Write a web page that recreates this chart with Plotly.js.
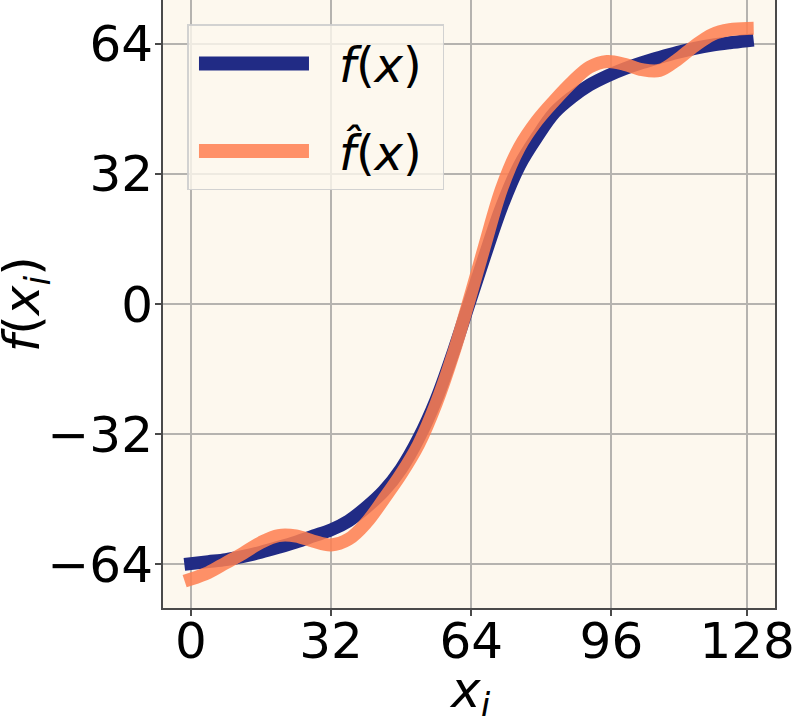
<!DOCTYPE html>
<html>
<head>
<meta charset="utf-8">
<script src="https://cdn.plot.ly/plotly-3.0.1.min.js"></script>
<style>
  html, body { margin: 0; padding: 0; background: #ffffff; }
  #plot { width: 793px; height: 716px; }
</style>
</head>
<body>
<div id="plot"></div>
<script>
// sample positions x_i
var xs = [0, 4, 8, 12, 16, 20, 24, 28, 32, 36, 40, 44, 48, 52, 56, 60, 63.5,
          67, 71, 75, 79, 83, 87, 91, 95, 99, 103, 107, 111, 115, 119, 123, 127];

// true function f(x)
var fTrue = [-63.8, -63.3, -62.8, -62.0, -61.0, -59.8, -58.5, -57.0, -55.5, -53.3, -50.0,
             -46.0, -40.5, -33.0, -23.5, -11.5, 0.0,
             11.5, 24.0, 34.0, 41.0, 47.0, 50.8, 53.8, 56.0, 57.8, 59.3, 60.6, 61.8,
             62.8, 63.6, 64.2, 64.7];

// approximation f-hat(x)
var fApprox = [-67.6, -66.0, -63.6, -61.2, -58.6, -56.9, -57.0, -58.3, -59.2, -57.8, -53.8,
               -48.0, -41.8, -34.5, -24.5, -12.0, 0.8,
               14.0, 28.5, 38.5, 45.0, 50.0, 54.5, 58.2, 59.6, 58.9, 57.6, 57.4, 60.0,
               63.4, 66.2, 67.4, 67.7];

// tick positions / labels
var xTickVals = [0, 32, 64, 96, 127];
var xTickText = ["0", "32", "64", "96", "128"];
var yTickVals = [-64, -32, 0, 32, 64];

var trace1 = {
    x: xs,
    y: fTrue,
    name: "<i>f</i>(<i>x</i>)\u00a0",
    legendgroup: "a",
    type: "scatter",
    mode: "lines",
    line: { color: "#212b85", width: 13, shape: "spline", smoothing: 1 }
};

var trace2 = {
    x: xs,
    y: fApprox,
    name: "<i>f\u0302</i>(<i>x</i>)\u00a0",
    legendgroup: "b",
    type: "scatter",
    mode: "lines",
    opacity: 0.85,
    line: { color: "#ff7f50", width: 13, shape: "spline", smoothing: 1 }
};

var axisCommon = {
    showline: true,
    mirror: true,
    linecolor: "#4a4a4a",
    linewidth: 2,
    ticks: "outside",
    ticklen: 6,
    tickwidth: 1.5,
    tickcolor: "#4a4a4a",
    showgrid: true,
    gridcolor: "#b5b3af",
    gridwidth: 1.5,
    zeroline: false,
    ticklabeloverflow: "allow",
    tickfont: { family: "DejaVu Sans", size: 50, color: "#000000" }
};

var layout = {
    width: 793,
    height: 716,
    margin: { l: 163, r: 18, t: 0, b: 108 },
    paper_bgcolor: "#ffffff",
    plot_bgcolor: "#fdf8ee",
    font: { family: "DejaVu Sans", color: "#000000" },
    showlegend: true,
    legend: {
        x: 0.04,
        y: 0.96,
        xanchor: "left",
        yanchor: "top",
        bgcolor: "rgba(253,248,238,0.8)",
        bordercolor: "rgba(205,205,205,0.9)",
        borderwidth: 1.5,
        itemwidth: 140,
        tracegroupgap: 22,
        font: { family: "DejaVu Sans", size: 48 }
    },
    xaxis: Object.assign({}, axisCommon, {
        range: [-6.35, 133.35],
        tickmode: "array",
        tickvals: xTickVals,
        ticktext: xTickText,
        ticklabelstandoff: -18
    }),
    yaxis: Object.assign({}, axisCommon, {
        range: [-74.7, 74.7],
        tickmode: "array",
        tickvals: yTickVals,
        ticklabelstandoff: -8
    }),
    annotations: [{
        text: "<i>f</i>(<i>x<sub>i</sub></i>)",
        xref: "paper",
        yref: "paper",
        x: -0.225,
        y: 0.5,
        xanchor: "center",
        yanchor: "middle",
        textangle: -90,
        showarrow: false,
        font: { family: "DejaVu Sans", size: 50, color: "#000000" }
    }, {
        text: "<i>x<sub>i</sub></i>",
        xref: "paper",
        yref: "paper",
        x: 0.502,
        y: -0.14,
        xanchor: "center",
        yanchor: "middle",
        showarrow: false,
        font: { family: "DejaVu Sans", size: 50, color: "#000000" }
    }]
};

Plotly.newPlot("plot", [trace1, trace2], layout, { displayModeBar: false }).then(function(gd) {
    // matplotlib-like projecting line caps
    gd.querySelectorAll(".scatterlayer .js-line").forEach(function(p) {
        p.style.strokeLinecap = "square";
    });
    // wider, thicker legend lines
    gd.querySelectorAll(".legend .legendlines path").forEach(function(p) {
        p.setAttribute("d", "M10,0h110");
        p.style.strokeWidth = "14px";
    });
});
</script>
</body>
</html>
